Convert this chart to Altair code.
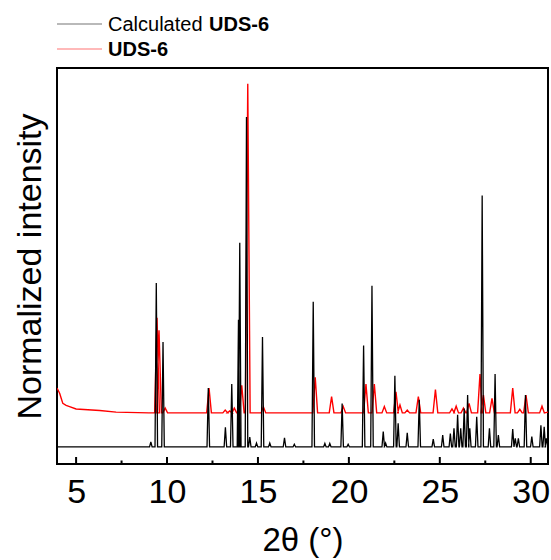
import altair as alt
import pandas as pd

# ---- data ----
# Calculated UDS-6 (black): peak positions (2theta) and peak heights (normalized units)
calc_pos = [9.11, 9.41, 9.78, 12.27, 13.21, 13.56, 13.93, 14.00, 14.37, 14.55,
            14.92, 15.25, 15.65, 16.46, 17.00, 18.04, 18.68, 18.95, 19.63, 19.96,
            20.81, 21.27, 21.89, 22.02, 22.53, 22.71, 23.21, 23.87, 24.64, 25.16,
            25.58, 25.78, 25.98, 26.15, 26.34, 26.53, 26.65, 27.03, 27.33, 27.73,
            28.04, 28.22, 29.01, 29.15, 29.32, 29.71, 30.06, 30.56, 30.74, 30.86]
calc_h = [5.6, 45.7, 30.8, 19.2, 9.3, 20.2, 36.4, 55.9, 87.6, 6.8,
          5.3, 32.1, 5.3, 6.6, 5.0, 41.0, 5.2, 5.2, 15.3, 5.0,
          29.9, 45.0, 8.2, 5.3, 22.3, 10.3, 7.9, 16.2, 6.3, 7.3,
          7.7, 9.0, 12.4, 9.0, 14.0, 17.4, 9.0, 11.9, 67.8, 9.0,
          22.7, 7.3, 8.8, 6.5, 6.5, 17.4, 6.9, 9.8, 9.4, 6.5]
calc_base = 4.3

# Experimental UDS-6 (red)
exp_pos = [9.45, 9.56, 9.90, 12.31, 13.20, 13.45, 13.70, 14.11, 14.44, 15.30,
           18.15, 19.05, 19.69, 20.94, 21.40, 21.95, 22.59, 22.81, 23.21, 23.82,
           24.76, 25.67, 25.90, 26.30, 26.61, 27.21, 27.40, 27.87, 29.01, 29.40,
           29.74, 30.62]
exp_h = [36.9, 33.8, 14.1, 19.2, 13.6, 13.4, 14.1, 19.9, 96.0, 14.4,
         21.9, 17.0, 14.5, 20.2, 20.2, 14.5, 18.2, 14.9, 13.6, 17.0,
         18.8, 13.9, 14.6, 14.1, 15.3, 22.7, 17.4, 16.6, 19.2, 13.8,
         17.4, 14.6]
exp_base = 12.9
exp_low_angle_x = [3.95, 4.10, 4.18, 4.27, 4.45, 4.64, 5.0, 6.3, 7.2, 9.0]
exp_low_angle_y = [19.2, 17.8, 16.6, 15.3, 14.8, 14.5, 13.9, 13.5, 13.1, 12.9]
exp_end_y = 13.1

x_range = [3.95, 30.95]
major_ticks = [5, 10, 15, 20, 25, 30]
minor_ticks = [7.5, 12.5, 17.5, 22.5, 27.5]

legend_plain = "Calculated"
legend_bold = "UDS-6"

FONT = "Liberation Sans"


def build_path(start_x, start_y, pos, h, base, hw, end_y):
    xs, ys = list(start_x), list(start_y)
    for p, v in zip(pos, h):
        xs += [p - hw, p, p + hw]
        ys += [base, v, base]
    xs.append(x_range[1])
    ys.append(end_y)
    return pd.DataFrame({"x": xs, "y": ys, "i": range(len(xs))})


calc_df = build_path([x_range[0]], [calc_base], calc_pos, calc_h, calc_base, 0.07, calc_base)
exp_df = build_path(exp_low_angle_x, exp_low_angle_y, exp_pos, exp_h, exp_base, 0.13, exp_end_y)

xs = alt.Scale(domain=x_range, nice=False, zero=False)
ys = alt.Scale(domain=[0, 100], nice=False, zero=False)

x_axis = alt.Axis(values=major_ticks, ticks=False, tickSize=0, domain=False, grid=False,
                  labelFontSize=34, labelFont=FONT, labelColor="black", labelPadding=11,
                  title="2θ (°)", titleFontSize=33, titleFont=FONT, titleFontWeight="normal",
                  titleColor="black", titlePadding=15)
y_axis = alt.Axis(labels=False, ticks=False, tickSize=0, domain=False, grid=False,
                  title="Normalized intensity", titleFontSize=34, titleFont=FONT,
                  titleFontWeight="normal", titleColor="black", titlePadding=10)

red = alt.Chart(exp_df).mark_line(color="#ff0000", strokeWidth=1.4, clip=True).encode(
    x=alt.X("x:Q", scale=xs, axis=x_axis),
    y=alt.Y("y:Q", scale=ys, axis=y_axis),
    order="i:Q",
)
black = alt.Chart(calc_df).mark_line(color="#000000", strokeWidth=1.3, clip=True).encode(
    x=alt.X("x:Q", scale=xs),
    y=alt.Y("y:Q", scale=ys),
    order="i:Q",
)

major = alt.Chart(pd.DataFrame({"t": major_ticks})).mark_rule(color="black", strokeWidth=2).encode(
    x=alt.X("t:Q", scale=xs), y=alt.value(396), y2=alt.value(389))
minor = alt.Chart(pd.DataFrame({"t": minor_ticks})).mark_rule(color="black", strokeWidth=2).encode(
    x=alt.X("t:Q", scale=xs), y=alt.value(396), y2=alt.value(392.5))

leg_lines = alt.Chart(pd.DataFrame({"c": ["calc", "exp"], "yy": [-44, -19]})).mark_rule(
    strokeWidth=1, opacity=0.55).encode(
    x=alt.value(0), x2=alt.value(45), y=alt.Y("yy:Q", scale=None),
    color=alt.Color("c:N", scale=alt.Scale(domain=["calc", "exp"], range=["#000000", "#ff0000"]), legend=None))

leg_t1 = alt.Chart(pd.DataFrame({"t": [legend_plain]})).mark_text(
    align="left", baseline="alphabetic", fontSize=20, font=FONT, color="black").encode(
    x=alt.value(51), y=alt.value(-37.3), text="t:N")
leg_t2 = alt.Chart(pd.DataFrame({"t": [legend_bold]})).mark_text(
    align="left", baseline="alphabetic", fontSize=20, font=FONT, fontWeight="bold", color="black").encode(
    x=alt.value(152), y=alt.value(-37.3), text="t:N")
leg_t3 = alt.Chart(pd.DataFrame({"t": [legend_bold]})).mark_text(
    align="left", baseline="alphabetic", fontSize=20, font=FONT, fontWeight="bold", color="black").encode(
    x=alt.value(51), y=alt.value(-12), text="t:N")

chart = alt.layer(red, black, major, minor, leg_lines, leg_t1, leg_t2, leg_t3).properties(
    width=491, height=396,
    padding={"left": 57, "top": 68, "right": 3, "bottom": 96},
    autosize=alt.AutoSizeParams(type="none"),
    background="white",
).configure_view(stroke="black", strokeWidth=2)

chart.save("out.html", embed_options={"renderer": "svg", "actions": False})
